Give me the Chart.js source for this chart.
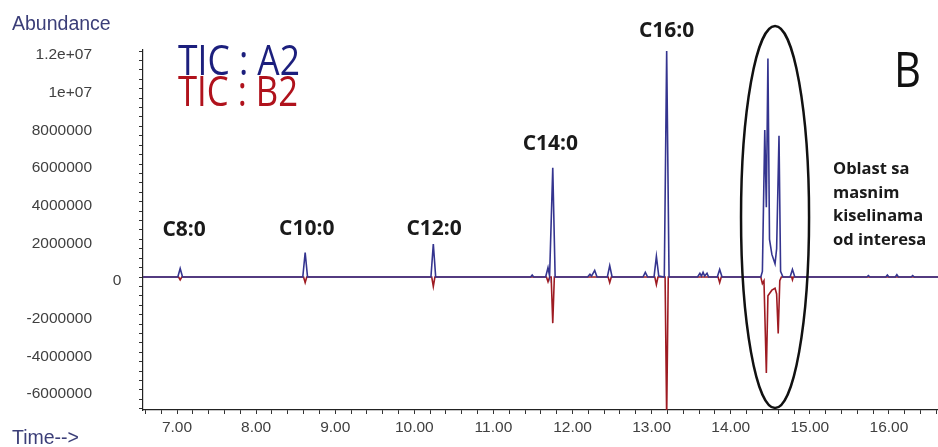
<!DOCTYPE html>
<html>
<head>
<meta charset="utf-8">
<script src="https://cdn.jsdelivr.net/npm/chart.js@4.4.1/dist/chart.umd.min.js"></script>
<style>
  html, body { margin: 0; padding: 0; background: #fff; }
  #wrap { width: 938px; height: 447px; }
</style>
</head>
<body>
<div id="wrap"><canvas id="tic"></canvas></div>
<script>
// TIC : A2 (retention time in min, abundance)
const a2Time = [6.57, 7.01, 7.04, 7.07, 8.59, 8.62, 8.65, 10.21, 10.24, 10.27,
  11.47, 11.49, 11.51, 11.66, 11.69, 11.71, 11.75, 11.78,
  12.19, 12.22, 12.24, 12.28, 12.31, 12.44, 12.47, 12.50,
  12.89, 12.92, 12.95, 13.03, 13.06, 13.09, 13.16, 13.19, 13.22,
  13.58, 13.61, 13.63, 13.65, 13.67, 13.70, 13.72, 13.83, 13.86, 13.89,
  14.38, 14.40, 14.43, 14.45, 14.47, 14.49, 14.52, 14.56, 14.58, 14.61, 14.63, 14.66,
  14.75, 14.78, 14.81, 15.72, 15.74, 15.76, 15.96, 15.98, 16.00, 16.08, 16.10, 16.12,
  16.28, 16.30, 16.32, 16.62];
const a2Abund = [0, 0, 450000, 0, 0, 1300000, 0, 0, 1750000, 0,
  0, 100000, 0, 0, 500000, 50000, 5800000, 0,
  0, 150000, 50000, 350000, 0, 0, 600000, 0,
  0, 250000, 0, 0, 1100000, 50000, 0, 12000000, 0,
  0, 200000, 50000, 250000, 50000, 200000, 0, 0, 400000, 0,
  0, 300000, 7800000, 3700000, 11600000, 2000000, 1200000, 700000, 1500000, 7500000, 300000, 0,
  0, 400000, 0, 0, 80000, 0, 0, 100000, 0, 0, 120000, 0,
  0, 80000, 0, 0];

// TIC : B2 (obrnut signal)
const b2Time = [6.57, 7.02, 7.04, 7.06, 8.60, 8.62, 8.64, 10.22, 10.24, 10.26,
  11.67, 11.69, 11.71, 11.73, 11.75, 11.77, 12.45, 12.47, 12.49,
  13.04, 13.06, 13.08, 13.17, 13.19, 13.21, 13.84, 13.86, 13.88,
  14.38, 14.40, 14.42, 14.45, 14.47, 14.52, 14.56, 14.58, 14.60, 14.62, 14.64,
  14.77, 14.78, 14.79, 16.62];
const b2Abund = [0, 0, -150000, 0, 0, -300000, 0, 0, -500000, 0,
  0, -250000, 0, 0, -2450000, 0, 0, -300000, 0,
  0, -400000, 0, 0, -7500000, 0, 0, -300000, 0,
  0, -350000, -200000, -5100000, -1000000, -700000, -600000, -900000, -3000000, -200000, 0,
  0, -150000, 0, 0];

const yTickValues = [12000000, 10000000, 8000000, 6000000, 4000000, 2000000, 0, -2000000, -4000000, -6000000];
const yTickLabels = ['1.2e+07', '1e+07', '8000000', '6000000', '4000000', '2000000', '0', '-2000000', '-4000000', '-6000000'];
const xTickValues = [7, 8, 9, 10, 11, 12, 13, 14, 15, 16];
const xTickLabels = ['7.00', '8.00', '9.00', '10.00', '11.00', '12.00', '13.00', '14.00', '15.00', '16.00'];

const peakNames = ['C8:0', 'C10:0', 'C12:0', 'C14:0', 'C16:0'];
const peakLabelTime = [7.09, 8.64, 10.25, 11.72, 13.19];
const peakLabelAbund = [2200000, 2250000, 2250000, 6750000, 12750000];

// oblast od interesa (elipsa)
const regionTime = [14.13, 14.99];
const regionAbund = [13330000, -6960000];
const regionText = ['Oblast sa', 'masnim', 'kiselinama', 'od interesa'];

const axisFont = { family: '"Liberation Sans", Arial, sans-serif', size: 15.5 };

function toPoints(xs, ys) {
  return xs.map((t, i) => ({ x: t, y: ys[i] }));
}

// sitne podjele na osama
function minorTicks(scale, step) {
  const ticks = [];
  const start = Math.ceil(scale.min / step - 1e-9);
  const end = Math.floor(scale.max / step + 1e-9);
  for (let k = start; k <= end; k++) ticks.push({ value: Math.round(k * step * 1000) / 1000 });
  scale.ticks = ticks;
}

function fitText(ctx, text, x, y, width, font, color) {
  ctx.save();
  ctx.font = font;
  ctx.fillStyle = color;
  ctx.textAlign = 'left';
  ctx.textBaseline = 'alphabetic';
  const w = ctx.measureText(text).width;
  ctx.translate(x, y);
  ctx.scale(width / w, 1);
  ctx.fillText(text, 0, 0);
  ctx.restore();
}

const annotations = {
  id: 'annotations',
  afterDraw(chart) {
    const ctx = chart.ctx;
    const x = chart.scales.x;
    const y = chart.scales.y;
    ctx.save();

    ctx.fillStyle = '#3b3e78';
    ctx.font = '19.5px "Liberation Sans", Arial, sans-serif';
    ctx.textAlign = 'left';
    ctx.textBaseline = 'alphabetic';
    ctx.fillText('Abundance', 12, 30);
    ctx.fillText('Time-->', 12, 444);

    // nula je pomjerena udesno kao u originalu
    ctx.fillStyle = '#404040';
    ctx.font = '15.5px "Liberation Sans", Arial, sans-serif';
    ctx.textAlign = 'center';
    ctx.textBaseline = 'middle';
    ctx.fillText('0', 117, y.getPixelForValue(0) + 4);

    fitText(ctx, 'TIC : A2', 178, 75, 122, '42px "Open Sans", sans-serif', '#1c1f7d');
    fitText(ctx, 'TIC : B2', 178, 106, 120, '42px "Open Sans", sans-serif', '#b0121c');
    fitText(ctx, 'B', 894, 87, 27, '50px "Open Sans", sans-serif', '#111');

    ctx.fillStyle = '#1a1a1a';
    ctx.font = 'bold 21px "Open Sans", sans-serif';
    ctx.textAlign = 'center';
    ctx.textBaseline = 'alphabetic';
    peakNames.forEach((name, i) => {
      ctx.fillText(name, x.getPixelForValue(peakLabelTime[i]), y.getPixelForValue(peakLabelAbund[i]));
    });

    ctx.font = 'bold 16.5px "Open Sans", sans-serif';
    ctx.textAlign = 'left';
    regionText.forEach((line, i) => {
      ctx.fillText(line, 833, 174 + i * 23.5);
    });

    const x0 = x.getPixelForValue(regionTime[0]);
    const x1 = x.getPixelForValue(regionTime[1]);
    const y0 = y.getPixelForValue(regionAbund[0]);
    const y1 = y.getPixelForValue(regionAbund[1]);
    ctx.beginPath();
    ctx.ellipse((x0 + x1) / 2, (y0 + y1) / 2, (x1 - x0) / 2, (y1 - y0) / 2, 0, 0, Math.PI * 2);
    ctx.lineWidth = 2.5;
    ctx.strokeStyle = '#111';
    ctx.stroke();
    ctx.restore();
  }
};

new Chart(document.getElementById('tic'), {
  type: 'scatter',
  data: {
    datasets: [
      // prvi dataset se crta zadnji, pa je A2 iznad B2
      { label: 'TIC : A2', data: toPoints(a2Time, a2Abund), showLine: true,
        borderColor: '#34348f', borderWidth: 1.6, pointRadius: 0, tension: 0 },
      { label: 'TIC : B2', data: toPoints(b2Time, b2Abund), showLine: true,
        borderColor: '#9e1b22', borderWidth: 1.6, pointRadius: 0, tension: 0 }
    ]
  },
  options: {
    responsive: true,
    maintainAspectRatio: false,
    animation: false,
    layout: { padding: { top: 50, left: 0, right: 0, bottom: 0 } },
    plugins: { legend: { display: false }, tooltip: { enabled: false } },
    scales: {
      x: {
        type: 'linear',
        min: 6.57,
        max: 16.62,
        afterBuildTicks: (s) => minorTicks(s, 0.2),
        afterFit: (s) => { s.height = 37; s.paddingLeft = 0; s.paddingRight = 0; },
        border: { display: true, color: '#222', width: 1.2 },
        grid: { display: true, drawOnChartArea: false, drawTicks: true, tickLength: 4, tickColor: '#333' },
        ticks: {
          autoSkip: false,
          maxRotation: 0,
          padding: 4,
          color: '#404040',
          font: axisFont,
          callback: (v) => {
            const i = xTickValues.findIndex((t) => Math.abs(t - v) < 1e-6);
            return i >= 0 ? xTickLabels[i] : '';
          }
        }
      },
      y: {
        type: 'linear',
        min: -7063000,
        max: 12055000,
        afterBuildTicks: (s) => minorTicks(s, 500000),
        afterFit: (s) => { s.width = 143; s.paddingTop = 0; s.paddingBottom = 0; },
        border: { display: true, color: '#222', width: 1.2 },
        grid: { display: true, drawOnChartArea: false, drawTicks: true, tickLength: 4, tickColor: '#333' },
        ticks: {
          autoSkip: false,
          padding: 47,
          labelOffset: 4,
          color: '#404040',
          font: axisFont,
          callback: (v) => {
            const i = yTickValues.indexOf(Math.round(v));
            return i >= 0 && yTickValues[i] !== 0 ? yTickLabels[i] : '';
          }
        }
      }
    }
  },
  plugins: [annotations]
});
</script>
</body>
</html>
